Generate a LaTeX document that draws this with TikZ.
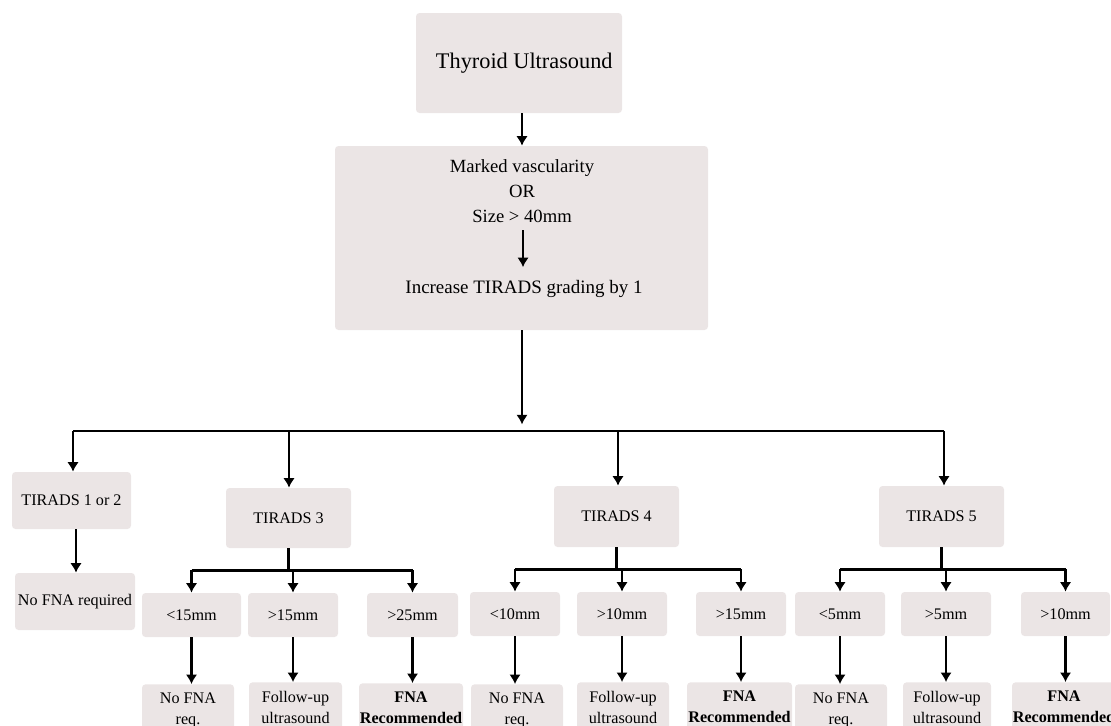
\documentclass[tikz,border=0pt]{standalone}
\usepackage{fontspec}
\setmainfont{Liberation Serif}
\usetikzlibrary{arrows.meta}
\definecolor{boxfill}{RGB}{235,229,229}

\begin{document}
\begin{tikzpicture}[x=0.02cm, y=-0.02cm, >={Latex[length=1.9mm,width=2.3mm]},
	every node/.style={font=\fontsize{9.2}{12}\selectfont},
	tbox/.style 2 args={fill=boxfill, rounded corners=2pt, align=center, inner sep=0pt, minimum width=#1*0.02cm, minimum height=#2*0.02cm},
	leaf/.style={fill=boxfill, rounded corners=2pt, align=center, anchor=north, inner xsep=0pt, inner ysep=5pt, minimum width=#1*0.02cm, font=\fontsize{9.2}{11.9}\selectfont},
	flow/.style={line width=1.6pt}]
	\clip (0,0) rectangle (1111,725);
	\node[tbox={206}{100}, font=\fontsize{12.7}{15}\selectfont] (us) at (519,63) {\hspace{6pt}Thyroid Ultrasound};
	\node[tbox={373}{184}] (crit) at (521.5,238) {};
	\node[align=center, font=\fontsize{10.6}{14.2}\selectfont] (cond) at (522,191) {Marked vascularity\\OR\\Size > 40mm};
	\node[font=\fontsize{10.8}{13}\selectfont] (incr) at (524,289) {Increase TIRADS grading by 1};
	\draw[flow,->] (us.south -| 522,0) -- (crit.north -| 522,0);
	\draw[flow,->, shorten <=1pt, shorten >=4pt] (cond.south -| 523,0) -- (incr.north -| 523,0);
	\coordinate (split) at (522,431);
	\draw[flow,->] (crit.south -| split) -- ++(0,94);
	\node[tbox={119}{57}] (t12) at (71.5,500.5) {TIRADS 1 or 2};
	\node[tbox={125}{60}] (t3) at (288.5,518) {TIRADS 3};
	\node[tbox={125}{61}] (t4) at (616.5,516.5) {TIRADS 4};
	\node[tbox={125}{61}] (t5) at (941.5,516.5) {TIRADS 5};
	\draw[flow] (73,431) -- (944,431);
	\foreach \n/\x in {t12/73, t3/289, t4/618, t5/944}
		\draw[flow,->] (\x,431) -- (\n.north -| \x,0);
	\node[tbox={120}{57}] (nofna) at (75,601.5) {No FNA required};
	\draw[flow,->] (t12.south -| 76,0) -- (nofna.north -| 76,0);
	\node[tbox={99}{44}] (c31) at (191.5,615) {<15mm};
	\node[tbox={90}{44}] (c32) at (293,615) {>15mm};
	\node[tbox={91}{44}] (c33) at (412.5,615) {>25mm};
	\node[tbox={90}{44}] (c41) at (515,614) {<10mm};
	\node[tbox={90}{44}] (c42) at (622,614) {>10mm};
	\node[tbox={90}{44}] (c43) at (741,614) {>15mm};
	\node[tbox={90}{44}] (c51) at (840,614) {<5mm};
	\node[tbox={90}{44}] (c52) at (946,614) {>5mm};
	\node[tbox={89}{44}] (c53) at (1065.5,614) {>10mm};
	\foreach \t/\p/\q/\r in {t3/c31/c32/c33, t4/c41/c42/c43, t5/c51/c52/c53} {
		\draw[flow] (\t.south) -- ++(0,22) coordinate (k);
		\draw[flow] (k -| \p.north) -- (k -| \r.north);
		\foreach \c in {\p,\q,\r}
			\draw[flow,->] (k -| \c.north) -- (\c.north);
	}
	\node[leaf=92] (g31) at (188,684) {No FNA\\req.};
	\node[leaf=93] (g32) at (295.5,682) {Follow-up\\ultrasound};
	\node[leaf=104] (g33) at (411,683) {\textbf{FNA}\\\textbf{Recommended}};
	\node[leaf=92] (g41) at (517,684) {No FNA\\req.};
	\node[leaf=92] (g42) at (623,682) {Follow-up\\ultrasound};
	\node[leaf=105] (g43) at (739.5,682) {\textbf{FNA}\\\textbf{Recommended}};
	\node[leaf=92] (g51) at (841,684) {No FNA\\req.};
	\node[leaf=88] (g52) at (947,682) {Follow-up\\ultrasound};
	\node[leaf=104] (g53) at (1064,682) {\textbf{FNA}\\\textbf{Recommended}};
	\foreach \a/\b in {c31/g31, c32/g32, c33/g33, c41/g41, c42/g42, c43/g43, c51/g51, c52/g52, c53/g53}
		\draw[flow,->] (\a.south) -- (\a.south |- \b.north);
\end{tikzpicture}
\end{document}
